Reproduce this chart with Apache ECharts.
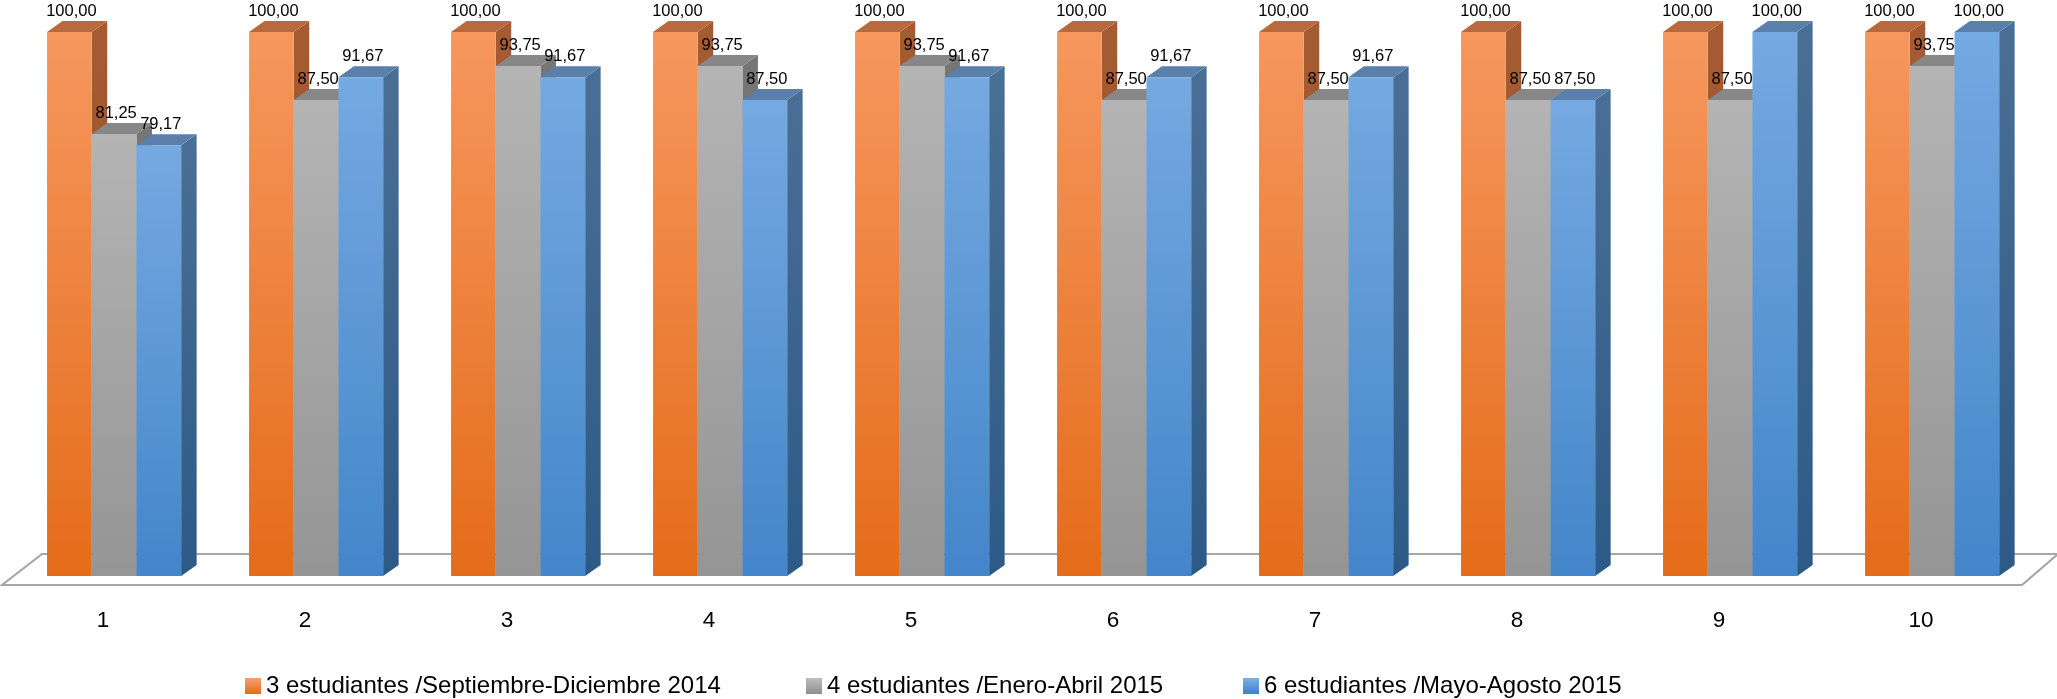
<!DOCTYPE html>
<html>
<head>
<meta charset="utf-8">
<script src="https://cdn.jsdelivr.net/npm/echarts@6/dist/echarts.min.js"></script>
<style>
html,body{margin:0;padding:0;background:#fff;}
#chart{width:2057px;height:699px;}
</style>
</head>
<body>
<div id="chart"></div>
<script>
const categories = ['1','2','3','4','5','6','7','8','9','10'];
const seriesNames = [
  '3 estudiantes /Septiembre-Diciembre 2014',
  '4 estudiantes /Enero-Abril 2015',
  '6 estudiantes /Mayo-Agosto 2015'
];
const sepDic2014 = [100, 100, 100, 100, 100, 100, 100, 100, 100, 100];
const eneAbr2015 = [81.25, 87.50, 93.75, 93.75, 93.75, 87.50, 87.50, 87.50, 87.50, 93.75];
const mayAgo2015 = [79.17, 91.67, 91.67, 87.50, 91.67, 91.67, 91.67, 87.50, 100.00, 100.00];

const G = echarts.graphic;
const palettes = [
  { front: ['#F6975E', '#E46C19'], side: ['#A65C32', '#8E4A1E'], top: '#B86A3E', legend: ['#F5A070', '#E46C19'] },
  { front: ['#B4B4B4', '#959595'], side: ['#767676', '#686868'], top: '#878787', legend: ['#BDBDBD', '#8F8F8F'] },
  { front: ['#75A9E1', '#4386C9'], side: ['#4A6F96', '#2C5A86'], top: '#5A7FAA', legend: ['#7DB0E6', '#3F80C4'] }
];
function grad(c) {
  return new G.LinearGradient(0, 0, 0, 1, [{offset: 0, color: c[0]}, {offset: 1, color: c[1]}]);
}
function fmt(v) { return v.toFixed(2).replace('.', ','); }

function makeRender(s) {
  const p = palettes[s];
  return function (params, api) {
    const cat = api.value(0), val = api.value(1);
    const topPt = api.coord([cat, val]);
    const basePt = api.coord([cat, 0]);
    const band = api.size([1, 0])[0];
    const w = band * 0.2213;
    const dx = band * 0.0767, dy = band * 0.0545;
    const x0 = basePt[0] - band * 0.277 + s * w;
    const yt = topPt[1], yb = basePt[1];
    return {
      type: 'group',
      children: [
        { type: 'polygon', z2: 1,
          shape: { points: [[x0 + w, yt], [x0 + w + dx, yt - dy], [x0 + w + dx, yb - dy], [x0 + w, yb]] },
          style: { fill: grad(p.side) } },
        { type: 'polygon', z2: 2,
          shape: { points: [[x0, yt], [x0 + dx, yt - dy], [x0 + w + dx, yt - dy], [x0 + w, yt]] },
          style: { fill: p.top } },
        { type: 'rect', z2: 3,
          shape: { x: x0, y: yt, width: w, height: yb - yt },
          style: { fill: grad(p.front) } },
        { type: 'text', z2: 100,
          style: { x: x0 + w / 2 + 2, y: yt - 21, text: fmt(val), align: 'center', verticalAlign: 'middle',
                   fill: '#000', font: '16.5px "Liberation Sans", Arial, sans-serif' } }
      ]
    };
  };
}

const dataSets = [sepDic2014, eneAbr2015, mayAgo2015];
const series = dataSets.map((arr, s) => ({
  name: seriesNames[s],
  type: 'custom',
  z: 3,
  renderItem: makeRender(s),
  itemStyle: { color: grad(palettes[s].legend) },
  encode: { x: 0, y: 1 },
  data: arr.map((v, i) => [i, v])
}));

series.unshift({
  type: 'custom',
  z: 1,
  silent: true,
  renderItem: function (params, api) {
    const band = api.size([1, 0])[0];
    const a = api.coord([0, 0]);
    const b = api.coord([categories.length - 1, 0]);
    const L = a[0] - band / 2, R = b[0] + band / 2, y0 = a[1];
    return {
      type: 'polygon',
      shape: { points: [[L, y0 + 9], [R, y0 + 9], [R + 36, y0 - 22], [L + 40, y0 - 22]] },
      style: { fill: '#fff', stroke: '#A6A6A6', lineWidth: 2.2 }
    };
  },
  data: [[0, 0]]
});

const legendLefts = [245, 806, 1243];
const chart = echarts.init(document.getElementById('chart'), null, { renderer: 'canvas' });
chart.setOption({
  animation: false,
  backgroundColor: '#fff',
  grid: { left: 2, right: 35, top: 32, bottom: 123, containLabel: false },
  xAxis: {
    type: 'category',
    data: categories,
    axisLine: { show: false },
    axisTick: { show: false },
    splitLine: { show: false },
    axisLabel: { margin: 33, fontSize: 22.5, color: '#000', fontFamily: '"Liberation Sans", Arial, sans-serif' }
  },
  yAxis: { type: 'value', min: 0, max: 100, show: false },
  legend: seriesNames.map((n, i) => ({
    data: [n],
    left: legendLefts[i],
    top: 674,
    padding: 0,
    icon: 'rect',
    itemWidth: 16,
    itemHeight: 16,
    itemGap: 6,
    textStyle: { fontSize: 24, color: '#000', fontFamily: '"Liberation Sans", Arial, sans-serif' },
    selectedMode: false
  })),
  series: series
});
</script>
</body>
</html>
